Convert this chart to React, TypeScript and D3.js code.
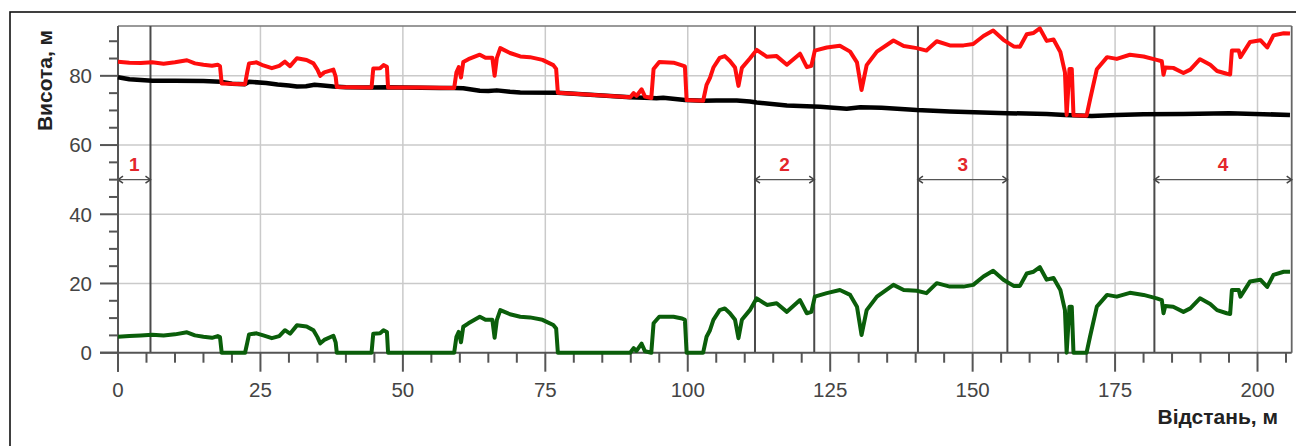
import React from "react";
import * as d3 from "d3";

// Distance along the profile (m) and elevation / height values (m)
const canopySurface: [number, number][] = [
  [0, 84.1], [2, 83.8], [4, 83.7], [6, 83.9], [8, 83.5], [10, 83.9], [12.1, 84.5], [13.5, 83.6],
  [15, 83.2], [16.5, 82.9], [17.5, 83.2], [17.9, 82.8], [18.2, 77.8], [22.3, 77.6], [22.7, 81.2],
  [23.0, 83.6], [24.3, 83.9], [25.5, 83.0], [27, 82.2], [28.3, 82.9], [29.3, 84.1], [30.2, 82.8],
  [31.4, 85.1], [33.1, 84.6], [34.3, 83.6], [35.0, 81.8], [35.5, 80.0], [36.2, 81.0], [37.8, 81.8],
  [38.2, 79.8], [38.4, 76.8], [44.5, 76.6], [44.8, 82.1], [46.0, 82.2], [46.6, 83.1], [47.2, 82.6],
  [47.4, 76.6], [53, 76.6], [59.0, 76.5], [59.4, 81.0], [59.8, 82.5], [60.2, 79.5], [60.6, 84.0],
  [61.5, 84.8], [63.5, 86.1], [64.5, 85.2], [65.7, 85.2], [66.1, 80.0], [66.5, 85.2], [67.1, 88.0],
  [68.8, 86.6], [70.6, 85.6], [72.3, 85.4], [74.5, 84.6], [76.4, 83.1], [76.9, 82.0], [77.2, 75.1],
  [85, 74.3], [89.9, 73.8], [90.5, 75.0], [91.0, 74.2], [91.9, 76.1], [92.5, 74.0], [93.6, 73.6],
  [94.0, 82.0], [95.0, 84.0], [97.5, 83.8], [99.0, 83.0], [99.5, 82.7], [99.8, 73.0], [102.7, 72.8],
  [103.3, 77.4], [103.9, 79.4], [104.5, 82.4], [105.6, 85.2], [106.5, 85.7], [107.4, 84.3],
  [108.3, 82.4], [108.9, 77.1], [109.5, 82.3], [110.9, 85.0], [112.1, 87.5], [113.9, 85.5],
  [115.6, 85.7], [117.4, 83.2], [119.7, 86.4], [120.9, 82.5], [121.7, 82.9], [122.3, 87.3],
  [124.4, 88.2], [126.7, 88.7], [128.5, 87.0], [129.7, 83.9], [130.5, 75.9], [131.4, 83.1],
  [133.2, 87.0], [136.1, 90.2], [137.9, 88.6], [140.2, 88.0], [141.9, 87.3], [143.7, 90.0],
  [146.0, 88.8], [148.4, 88.8], [150.1, 89.2], [151.9, 91.5], [153.6, 93.1], [155.4, 90.4],
  [157.2, 88.5], [158.3, 88.4], [159.5, 92.0], [160.7, 92.4], [161.8, 93.7], [163.0, 90.1],
  [164.2, 90.5], [165.4, 86.9], [166.2, 81.0], [166.5, 68.7], [167.0, 82.0], [167.4, 82.0],
  [167.7, 68.6], [170.0, 68.5], [170.6, 73.1], [171.8, 81.9], [173.6, 85.4], [175.3, 84.9],
  [177.6, 86.1], [180.0, 85.6], [182.3, 84.6], [183.2, 84.2], [183.5, 80.3], [183.8, 82.4],
  [185.2, 82.3], [187.0, 80.8], [188.2, 81.8], [189.9, 84.8], [191.7, 83.2], [192.9, 81.4],
  [194.6, 80.6], [195.2, 80.4], [195.5, 87.3], [196.7, 87.3], [197.0, 85.4], [198.7, 89.8],
  [200.5, 90.3], [201.7, 88.2], [202.8, 91.7], [204.6, 92.3], [205.7, 92.2],
];

const groundElevation: [number, number][] = [
  [0, 79.6], [2, 79.0], [4, 78.8], [6, 78.6], [10, 78.6], [15, 78.5], [18, 78.3], [20, 77.7],
  [22.3, 77.6], [23, 78.3], [26, 77.9], [28, 77.5], [30, 77.2], [31.4, 76.9], [33, 77.0],
  [34.5, 77.4], [36, 77.2], [37.8, 76.9], [40, 76.7], [44.5, 76.6], [47, 76.7], [50, 76.6],
  [56.5, 76.5], [59, 76.5], [60.6, 76.4], [63.5, 75.7], [65, 75.6], [66.5, 75.8], [68.8, 75.4],
  [70.6, 75.2], [77.2, 75.1], [85, 74.3], [89.9, 73.8], [93.6, 73.6], [94.5, 73.5], [95.7, 73.7],
  [99.5, 73.0], [102.7, 72.8], [105, 72.9], [108.6, 72.9], [110.9, 72.6], [112.1, 72.3],
  [117.4, 71.4], [123.2, 71.1], [127.9, 70.5], [130.3, 70.9], [134, 70.8], [140.2, 70.1],
  [146, 69.7], [156, 69.2], [163, 69.0], [166.2, 68.7], [170.9, 68.4], [175.3, 68.7], [180, 68.9],
  [187, 69.0], [195, 69.2], [205.7, 68.7],
];

const canopyHeight: [number, number][] = [
  [0, 4.6], [2, 4.8], [4, 5.0], [6, 5.2], [8, 5.0], [10, 5.3], [12.1, 5.9], [13.5, 5.0], [15, 4.6],
  [16.5, 4.3], [17.5, 4.8], [17.9, 4.5], [18.2, 0], [22.3, 0], [22.7, 3.0], [23.0, 5.3], [24.3, 5.6],
  [25.5, 5.0], [27, 4.2], [28.3, 4.8], [29.3, 6.5], [30.2, 5.5], [31.4, 7.9], [33.1, 7.6],
  [34.3, 6.5], [35.0, 4.5], [35.5, 2.7], [36.2, 3.7], [37.8, 4.9], [38.2, 3.0], [38.4, 0],
  [44.5, 0], [44.8, 5.5], [46.0, 5.6], [46.6, 6.5], [47.2, 6.0], [47.4, 0], [59.0, 0], [59.4, 4.6],
  [59.8, 6.0], [60.2, 3.0], [60.6, 7.5], [61.5, 8.5], [63.5, 10.4], [64.5, 9.5], [65.7, 9.5],
  [66.1, 4.3], [66.5, 9.5], [67.1, 12.3], [68.8, 11.1], [70.6, 10.4], [72.3, 10.2], [74.5, 9.5],
  [76.4, 8.0], [76.9, 7.0], [77.2, 0], [89.9, 0], [90.5, 1.3], [91.0, 0.5], [91.9, 2.6],
  [92.5, 0.4], [93.6, 0], [94.0, 8.5], [95.0, 10.4], [97.5, 10.4], [99.0, 9.9], [99.5, 9.5],
  [99.8, 0], [102.7, 0], [103.3, 4.6], [103.9, 6.5], [104.5, 9.5], [105.6, 12.3], [106.5, 12.8],
  [107.4, 11.4], [108.3, 9.5], [108.9, 4.2], [109.5, 9.5], [110.9, 12.3], [112.1, 15.7],
  [113.9, 13.8], [115.6, 14.3], [117.4, 11.8], [119.7, 15.2], [120.9, 11.4], [121.7, 11.8],
  [122.3, 16.2], [124.4, 17.2], [126.7, 18.1], [128.5, 16.7], [129.7, 13.3], [130.5, 5.1],
  [131.4, 12.3], [133.2, 16.2], [136.1, 19.6], [137.9, 18.1], [140.2, 17.9], [141.9, 17.2],
  [143.7, 20.1], [146.0, 19.1], [148.4, 19.1], [150.1, 19.6], [151.9, 22.0], [153.6, 23.7],
  [155.4, 21.1], [157.2, 19.3], [158.3, 19.3], [159.5, 22.9], [160.7, 23.4], [161.8, 24.7],
  [163.0, 21.1], [164.2, 21.6], [165.4, 18.1], [166.2, 12.3], [166.5, 0], [167.0, 13.3],
  [167.4, 13.3], [167.7, 0], [170.0, 0], [170.6, 4.6], [171.8, 13.3], [173.6, 16.7], [175.3, 16.2],
  [177.6, 17.3], [180.0, 16.7], [182.3, 15.7], [183.2, 15.2], [183.5, 11.4], [183.8, 13.5],
  [185.2, 13.3], [187.0, 11.8], [188.2, 12.8], [189.9, 15.7], [191.7, 14.1], [192.9, 12.3],
  [194.6, 11.4], [195.2, 11.2], [195.5, 18.1], [196.7, 18.1], [197.0, 16.2], [198.7, 20.6],
  [200.5, 21.1], [201.7, 19.0], [202.8, 22.5], [204.6, 23.4], [205.7, 23.4],
];

// Study sections: [start, end] distance and label
const sectionStart = [0, 111.8, 140.4, 181.9];
const sectionEnd = [5.7, 122.2, 156.1, 206];
const sectionLabels = ["1", "2", "3", "4"];
const sectionArrowLevel = 50;

const xMajorTicks = [0, 25, 50, 75, 100, 125, 150, 175, 200];
const yMajorTicks = [0, 20, 40, 60, 80];
const xTitle = "Відстань, м";
const yTitle = "Висота, м";

const W = 1296;
const H = 446;
const FONT = "'Liberation Sans', Arial, Helvetica, sans-serif";

export default function App() {
  const x = d3.scaleLinear().domain([0, 206]).range([118, 1291.7]);
  const y = d3.scaleLinear().domain([0, 94.4]).range([352.7, 26]);
  const [x0, x1] = x.range();
  const [yb, yt] = y.range();

  const line = d3
    .line<[number, number]>()
    .x((d) => x(d[0]))
    .y((d) => y(d[1]));

  const xMinor = d3.range(0, 206, 5).filter((v) => v % 25 !== 0);
  const yMinor = d3.range(0, 94, 5).filter((v) => v % 20 !== 0);

  const dividers = Array.from(new Set([...sectionStart, ...sectionEnd])).filter(
    (v) => v > 0 && v < 206
  );

  const head = 5;

  return (
    <svg
      width={W}
      height={H}
      style={{ position: "absolute", left: 0, top: 0, background: "#fff" }}
    >
      {/* outer frame */}
      <rect x={10} y={12} width={W} height={H} fill="none" stroke="#111" strokeWidth={1.6} />

      {/* grid */}
      {xMajorTicks.filter((v) => v > 0).map((v) => (
        <line key={"gx" + v} x1={x(v)} x2={x(v)} y1={yt} y2={yb} stroke="#cacaca" strokeWidth={1.5} />
      ))}
      {yMajorTicks.filter((v) => v > 0).map((v) => (
        <line key={"gy" + v} x1={x0} x2={x1} y1={y(v)} y2={y(v)} stroke="#cacaca" strokeWidth={1.5} />
      ))}

      {/* plot border */}
      <line x1={x0} x2={x1} y1={yt} y2={yt} stroke="#777" strokeWidth={1.5} />
      <line x1={x1} x2={x1} y1={yt} y2={yb} stroke="#666" strokeWidth={1.8} />

      {/* section dividers */}
      {dividers.map((v) => (
        <line key={"d" + v} x1={x(v)} x2={x(v)} y1={yt} y2={yb} stroke="#4a4a4a" strokeWidth={2} />
      ))}

      {/* section arrows and labels */}
      {sectionLabels.map((lab, i) => {
        const a = x(sectionStart[i]);
        const b = x(sectionEnd[i]);
        const yy = y(sectionArrowLevel);
        return (
          <g key={"s" + lab}>
            <line x1={a} x2={b} y1={yy} y2={yy} stroke="#555" strokeWidth={1.3} />
            <path
              d={`M${a + head},${yy - head * 0.7} L${a},${yy} L${a + head},${yy + head * 0.7}`}
              fill="none"
              stroke="#444"
              strokeWidth={1.5}
            />
            <path
              d={`M${b - head},${yy - head * 0.7} L${b},${yy} L${b - head},${yy + head * 0.7}`}
              fill="none"
              stroke="#444"
              strokeWidth={1.5}
            />
            <text
              x={(a + b) / 2}
              y={yy - 9}
              textAnchor="middle"
              fontFamily={FONT}
              fontWeight="bold"
              fontSize={19}
              fill="#e3262b"
            >
              {lab}
            </text>
          </g>
        );
      })}

      {/* axes */}
      <line x1={x0} x2={x0} y1={yt} y2={yb + 19} stroke="#555" strokeWidth={2} />
      <line x1={x0 - 18} x2={x1} y1={yb} y2={yb} stroke="#555" strokeWidth={2} />
      {yMajorTicks.map((v) => (
        <g key={"yt" + v}>
          <line x1={x0 - 18} x2={x0} y1={y(v)} y2={y(v)} stroke="#555" strokeWidth={2} />
          <text
            x={x0 - 26}
            y={y(v)}
            dy="0.36em"
            textAnchor="end"
            fontFamily={FONT}
            fontSize={20.5}
            fill="#444"
          >
            {v}
          </text>
        </g>
      ))}
      {yMinor.map((v) => (
        <line key={"ym" + v} x1={x0 - 9} x2={x0} y1={y(v)} y2={y(v)} stroke="#555" strokeWidth={2} />
      ))}
      {xMajorTicks.map((v) => (
        <g key={"xt" + v}>
          <line x1={x(v)} x2={x(v)} y1={yb} y2={yb + 19} stroke="#555" strokeWidth={2} />
          <text
            x={x(v)}
            y={396.5}
            textAnchor="middle"
            fontFamily={FONT}
            fontSize={20.5}
            fill="#444"
          >
            {v}
          </text>
        </g>
      ))}
      {xMinor.map((v) => (
        <line key={"xm" + v} x1={x(v)} x2={x(v)} y1={yb} y2={yb + 10} stroke="#555" strokeWidth={2} />
      ))}

      {/* data lines */}
      <path d={line(canopyHeight) ?? ""} fill="none" stroke="#0a5e0a" strokeWidth={4} strokeLinejoin="round" />
      <path d={line(groundElevation) ?? ""} fill="none" stroke="#000" strokeWidth={4.5} strokeLinejoin="round" />
      <path d={line(canopySurface) ?? ""} fill="none" stroke="#ff0d0d" strokeWidth={4} strokeLinejoin="round" />

      {/* axis titles */}
      <text
        transform="translate(52,80.5) rotate(-90)"
        textAnchor="middle"
        fontFamily={FONT}
        fontWeight="bold"
        fontSize={21}
        fill="#222"
      >
        {yTitle}
      </text>
      <text
        x={1278}
        y={424}
        textAnchor="end"
        fontFamily={FONT}
        fontWeight="bold"
        fontSize={21}
        fill="#222"
      >
        {xTitle}
      </text>
    </svg>
  );
}
